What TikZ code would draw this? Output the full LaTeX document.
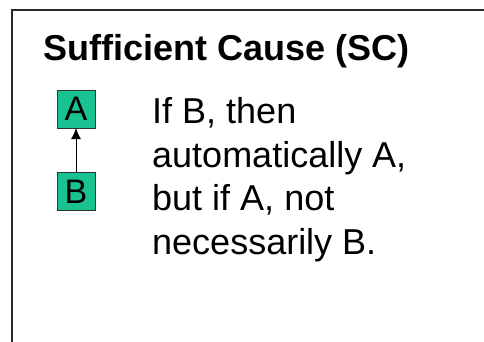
\documentclass[tikz,border=0pt]{standalone}
\usepackage{fontspec}
\setmainfont{Liberation Sans}
\usepackage{xcolor}
\usetikzlibrary{arrows.meta,positioning}
\definecolor{Ink}{HTML}{000000}
\definecolor{Frame}{HTML}{2A2A2A}
\definecolor{Teal}{HTML}{19C291}

\begin{document}
\begin{tikzpicture}[x=1pt,y=-1pt,
  node distance=44pt,
  box/.style={draw=Ink!80,fill=Teal,minimum width=38pt,minimum height=38pt,inner sep=0pt,
    font=\fontsize{34}{36}\selectfont},
  arr/.style={-{Latex[length=11pt,width=10pt]},semithick,color=Ink}]
\useasboundingbox (0,0) rectangle (484,341);
\draw[Frame,line width=1.3pt] (490,10) -- (12,10) -- (12,350);
\node[anchor=base west,inner sep=0pt,font=\bfseries\fontsize{36}{40}\selectfont] (title) at (43,60) {Sufficient Cause (SC)};
\node[box] (a) at (76,109) {A};
\node[box,below=of a] (b) {B};
\draw[arr] (b) -- (a);
% base anchor of a multi-line node sits on its last line
\node[anchor=base west,inner sep=0pt,align=left,font=\fontsize{36}{43.5}\selectfont] (rule) at (152,254)
  {If B, then\\automatically A,\\but if A, not\\necessarily B.};
\end{tikzpicture}
\end{document}
